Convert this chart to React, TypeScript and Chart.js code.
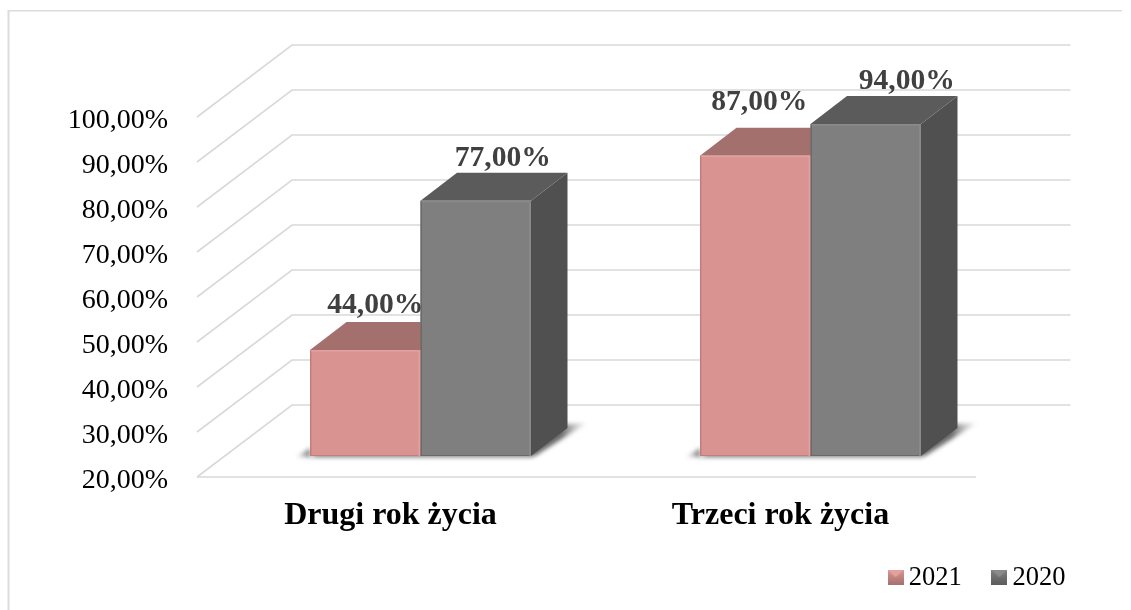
import React, { useEffect, useRef } from "react";
import { Chart, registerables } from "chart.js";

Chart.register(...registerables);

const categories = ["Drugi rok życia", "Trzeci rok życia"];
const series2021 = [44, 87];
const series2020 = [77, 94];
const seriesNames = ["2021", "2020"];

// Layout of the pseudo-3D frame
const W = 1131, H = 610;
const TOP = 45, BOTTOM = 477, LEFT = 225.5, RIGHT = 1005.5;
const FRONT_X = 197, WALL_X = 292, FLOOR_END_X = 976, WALL_END_X = 1070.5, WALL_DY = 72;
const GRID_LIFT = 3.5;
const DEPTH_X = 36.5, DEPTH_Y = 28;
const FLOOR_VALUE = 20.55;
const LABEL_NUDGE = [[10, 27], [4, 41]];
const LABEL_RISE = [[45, 42], [53, 43]];

const SERIF = "'Liberation Serif', 'Times New Roman', serif";

const PALETTE = [
  { front: "#d99391", top: "#a4706d", side: "#8f5f5d", dark: "#c07f7d", light: "#e3a09e" },
  { front: "#7f7f7f", top: "#5b5b5b", side: "#505050", dark: "#6a6a6a", light: "#8a8a8a" },
];

function poly(ctx: CanvasRenderingContext2D, pts: number[][]) {
  ctx.beginPath();
  pts.forEach((p, i) => (i ? ctx.lineTo(p[0], p[1]) : ctx.moveTo(p[0], p[1])));
  ctx.closePath();
}

const frame3d = {
  id: "frame3d",
  afterLayout(chart: any) {
    const l = chart.legend;
    l.left = 858;
    l.top = 527;
  },
  beforeDatasetsDraw(chart: any) {
    const ctx: CanvasRenderingContext2D = chart.ctx;
    const ax = chart.scales.y;
    ctx.save();
    // outer border
    ctx.fillStyle = "#dcdcdc";
    ctx.fillRect(8, 10, W - 8 - 9, 1.5);
    ctx.fillRect(7.5, 10, 2, H - 10);
    // walls
    ctx.strokeStyle = "#d9d9d9";
    ctx.lineWidth = 1.6;
    ax.ticks.forEach((t: any) => {
      const y = ax.getPixelForValue(t.value) - GRID_LIFT;
      ctx.beginPath();
      ctx.moveTo(FRONT_X, y);
      ctx.lineTo(WALL_X, y - WALL_DY);
      ctx.lineTo(WALL_END_X, y - WALL_DY);
      ctx.stroke();
    });
    const y0 = ax.getPixelForValue(20) - GRID_LIFT;
    ctx.beginPath();
    ctx.moveTo(FRONT_X, y0);
    ctx.lineTo(FLOOR_END_X, y0);
    ctx.stroke();

    // floor shadows
    const m0 = chart.getDatasetMeta(0).data;
    const m1 = chart.getDatasetMeta(1).data;
    m0.forEach((a: any, i: number) => {
      const b = m1[i];
      const l = a.x - a.width / 2;
      const r = b.x + b.width / 2;
      const base = a.base;
      ctx.save();
      ctx.filter = "blur(2px)";
      const g = ctx.createLinearGradient(r + DEPTH_X - 6, 0, r + 56, 0);
      g.addColorStop(0, "rgba(80,80,80,0.85)");
      g.addColorStop(1, "rgba(190,190,190,0.2)");
      ctx.fillStyle = g;
      poly(ctx, [[l + 5, base - 8], [r + DEPTH_X, base - DEPTH_Y - 4], [r + 56, base - 33], [r + 4, base], [l + 4, base]]);
      ctx.fill();
      ctx.fillStyle = "rgba(120,120,120,0.45)";
      ctx.fillRect(l, base - 1, r - l + 2, 3);
      const g2 = ctx.createLinearGradient(l - 14, 0, l, 0);
      g2.addColorStop(0, "rgba(190,190,190,0.3)");
      g2.addColorStop(1, "rgba(85,85,85,0.85)");
      ctx.fillStyle = g2;
      poly(ctx, [[l, base - 8], [l, base + 1], [l - 14, base + 1]]);
      ctx.fill();
      ctx.restore();
    });

    // top and side faces
    [m0, m1].forEach((meta: any[], k: number) => {
      const c = PALETTE[k];
      meta.forEach((el: any) => {
        const l = el.x - el.width / 2;
        const r = el.x + el.width / 2;
        ctx.fillStyle = c.side;
        poly(ctx, [[r, el.y], [r + DEPTH_X, el.y - DEPTH_Y], [r + DEPTH_X, el.base - DEPTH_Y], [r, el.base]]);
        ctx.fill();
        ctx.fillStyle = c.top;
        poly(ctx, [[l, el.y], [l + DEPTH_X, el.y - DEPTH_Y], [r + DEPTH_X, el.y - DEPTH_Y], [r, el.y]]);
        ctx.fill();
      });
    });
    ctx.restore();
  },
  afterDatasetsDraw(chart: any) {
    const ctx: CanvasRenderingContext2D = chart.ctx;
    ctx.save();
    [0, 1].forEach((k) => {
      const c = PALETTE[k];
      chart.getDatasetMeta(k).data.forEach((el: any) => {
        const l = el.x - el.width / 2;
        const r = el.x + el.width / 2;
        // bevel on the front face
        ctx.fillStyle = c.dark;
        ctx.fillRect(l, el.y, 1.5, el.base - el.y);
        ctx.fillRect(l, el.base - 1, r - l, 1);
        ctx.fillStyle = c.light;
        ctx.fillRect(r - 2, el.y, 2, el.base - el.y);
        ctx.fillRect(l + 1, el.y, r - l - 1, 1.5);
      });
    });
    [0, 1].forEach((k) => {
      chart.getDatasetMeta(k).data.forEach((el: any, i: number) => {
        // value label
        const value = chart.data.datasets[k].data[i];
        ctx.font = `bold 29.6px ${SERIF}`;
        ctx.fillStyle = "#404040";
        ctx.textAlign = "center";
        ctx.textBaseline = "middle";
        ctx.fillText(
          value.toFixed(2).replace(".", ",") + "%",
          el.x + LABEL_NUDGE[i][k],
          el.y - LABEL_RISE[i][k]
        );
      });
    });
    ctx.restore();
  },
};

function swatch(c: (typeof PALETTE)[number]) {
  const s = document.createElement("canvas");
  s.width = 16;
  s.height = 15;
  const x = s.getContext("2d")!;
  const g = x.createLinearGradient(0, 0, 0, 15);
  g.addColorStop(0, c.front);
  g.addColorStop(1, c.top);
  x.fillStyle = g;
  x.fillRect(0, 0, 16, 15);
  x.fillStyle = c.light;
  poly(x, [[0, 0], [16, 0], [8, 7]]);
  x.fill();
  return s;
}

export default function App() {
  const ref = useRef<HTMLCanvasElement>(null);
  useEffect(() => {
    const swatches = PALETTE.map(swatch);
    const chart = new Chart(ref.current!, {
      type: "bar",
      data: {
        labels: categories,
        datasets: [
          { label: seriesNames[0], data: series2021, backgroundColor: PALETTE[0].front, yAxisID: "bars", base: FLOOR_VALUE },
          { label: seriesNames[1], data: series2020, backgroundColor: PALETTE[1].front, yAxisID: "bars", base: FLOOR_VALUE },
        ],
      },
      options: {
        animation: false,
        responsive: false,
        layout: { padding: { top: TOP, left: 0, right: 0, bottom: 0 } },
        datasets: { bar: { categoryPercentage: 0.5667, barPercentage: 1 } },
        scales: {
          x: {
            grid: { display: false, drawTicks: false },
            border: { display: false },
            afterFit: (s: any) => {
              s.height = H - BOTTOM - s.chart.legend.height;
              s.paddingLeft = 0;
              s.paddingRight = 0;
            },
            ticks: {
              color: "#000",
              font: { family: SERIF, size: 32, weight: "bold" },
              padding: 20,
              labelOffset: -30,
              maxRotation: 0,
            },
          },
          y: {
            position: "left",
            min: 20.78,
            max: 116.78,
            grid: { display: false, drawTicks: false },
            border: { display: false },
            afterFit: (s: any) => {
              s.width = LEFT;
              s.paddingTop = 0;
              s.paddingBottom = 0;
            },
            afterBuildTicks: (s: any) => {
              s.ticks = [20, 30, 40, 50, 60, 70, 80, 90, 100].map((value) => ({ value }));
            },
            ticks: {
              color: "#000",
              font: { family: SERIF, size: 28 },
              padding: LEFT - 168,
              callback: (v: any) => Number(v).toFixed(2).replace(".", ",") + "%",
            },
          },
          bars: {
            position: "right",
            min: 15.9,
            max: 111.48,
            grid: { display: false, drawTicks: false },
            border: { display: false },
            ticks: { display: false },
            afterFit: (s: any) => {
              s.width = W - RIGHT;
              s.paddingTop = 0;
              s.paddingBottom = 0;
            },
          },
        },
        plugins: {
          tooltip: { enabled: false },
          legend: {
            position: "bottom",
            align: "start",
            labels: {
              color: "#000",
              font: { family: SERIF, size: 26.5 },
              usePointStyle: true,
              boxWidth: 0.01,
              padding: 37.5,
              generateLabels: () =>
                seriesNames.map((text, i) => ({
                  text,
                  pointStyle: swatches[i],
                  datasetIndex: i,
                  fontColor: "#000",
                  hidden: false,
                })),
            },
          },
        },
      },
      plugins: [frame3d],
    } as any);
    return () => chart.destroy();
  }, []);
  return (
    <div style={{ position: "absolute", left: 0, top: 0, width: W, height: H, overflow: "hidden", background: "#fff" }}>
      <canvas ref={ref} width={W} height={H} style={{ display: "block" }} />
    </div>
  );
}
